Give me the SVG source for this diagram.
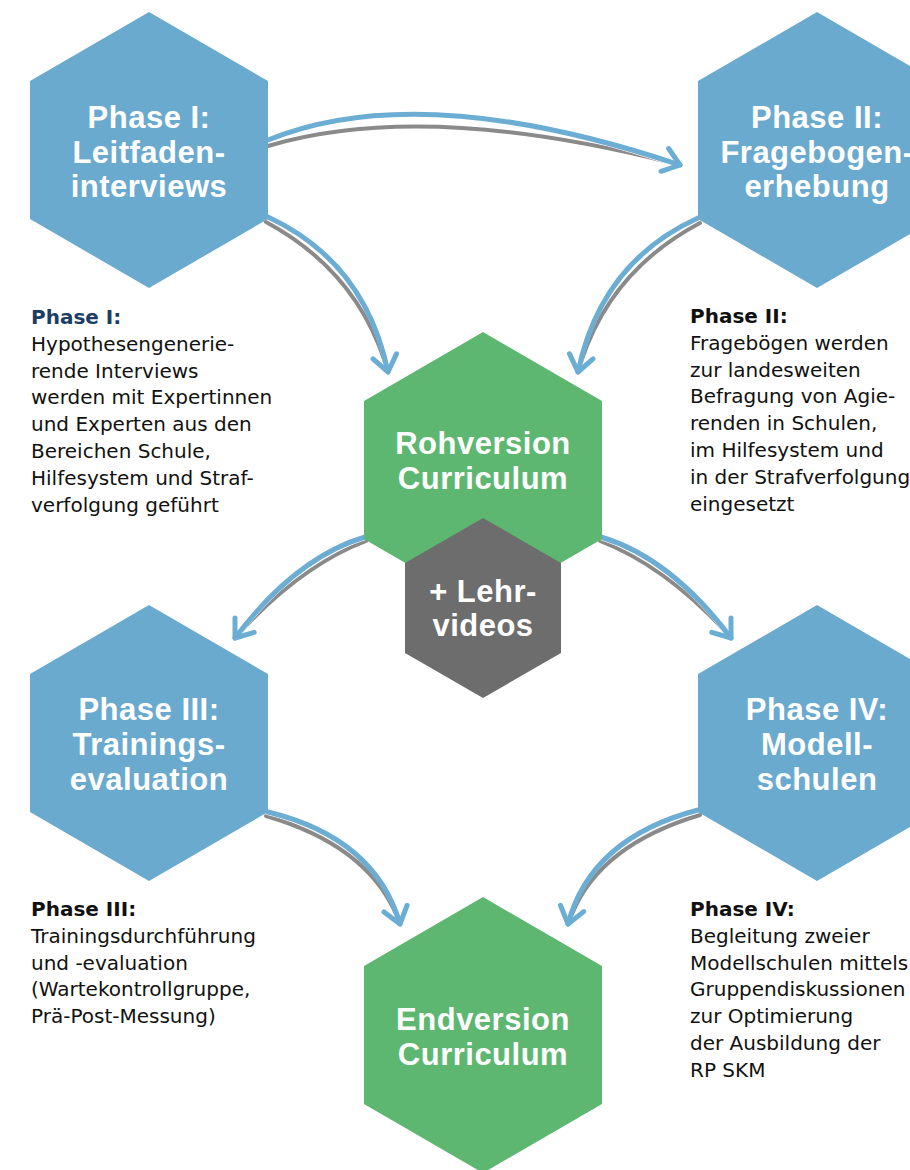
<svg xmlns="http://www.w3.org/2000/svg" width="910" height="1170" viewBox="0 0 910 1170">
<style>
.hb{fill:#6aaacf}
.hg{fill:#5eb771}
.hd{fill:#6d6d6d}
.t{font-family:"Liberation Sans",Arial,sans-serif;font-weight:bold;font-size:31px;letter-spacing:0.5px;fill:#ffffff;text-anchor:middle}
.b{font-family:"DejaVu Sans","Noto Sans",sans-serif;font-size:20px;fill:#111111}
.bh{font-weight:bold}
.sh{fill:none;stroke:#8a8a8a;stroke-width:4;stroke-linecap:round}
.hl{fill:none;stroke:#ffffff;stroke-width:6.2;stroke-linecap:round}
.ar{fill:none;stroke:#6badd3;stroke-width:5;stroke-linecap:round;marker-end:url(#chev)}
</style>
<defs>
<polygon id="hexL" points="0,-138 119,-69 119,69 0,138 -119,69 -119,-69"/>
<polygon id="hexS" points="0,-90 78,-45 78,45 0,90 -78,45 -78,-45"/>
<marker id="chev" markerUnits="userSpaceOnUse" orient="auto" markerWidth="40" markerHeight="40" refX="0" refY="0" viewBox="-25 -20 30 40" overflow="visible">
<path d="M-16,-12 L0,0 L-16,12" fill="none" stroke="#6badd3" stroke-width="5" stroke-linecap="round" stroke-linejoin="round"/>
</marker>
</defs>
<rect width="910" height="1170" fill="#ffffff"/>
<g id="connectors">
<path class="sh" d="M268,146 Q424,100 672,163"/>
<path class="hl" d="M268,140 Q420,78 676,164"/>
<path class="ar" d="M268,140 Q420,78 680,165"/>
<path class="sh" d="M266,222 Q355,270 385,362"/>
<path class="hl" d="M268,217 Q365,262 388,368"/>
<path class="ar" d="M268,217 Q365,262 388,372"/>
<path class="sh" d="M700,223 Q611,270 581,362"/>
<path class="hl" d="M698,218 Q601,262 578,368"/>
<path class="ar" d="M698,218 Q601,262 578,372"/>
<path class="sh" d="M366,541 Q303,565 242,630"/>
<path class="hl" d="M365,537 Q295,558 237,635"/>
<path class="ar" d="M365,537 Q295,558 235,638"/>
<path class="sh" d="M600,541 Q663,565 724,630"/>
<path class="hl" d="M601,537 Q671,558 729,635"/>
<path class="ar" d="M601,537 Q671,558 731,638"/>
<path class="sh" d="M266,816 Q366,845 396,914"/>
<path class="hl" d="M268,812 Q375,838 400,920"/>
<path class="ar" d="M268,812 Q375,838 400,924"/>
<path class="sh" d="M700,815 Q600,845 572,914"/>
<path class="hl" d="M698,810 Q591,838 568,920"/>
<path class="ar" d="M698,810 Q591,838 568,924"/>
</g>
<g id="phase1">
<use href="#hexL" class="hb" x="149" y="150"/>
<text class="t" x="149" y="128">Phase I:</text>
<text class="t" x="149" y="163">Leitfaden-</text>
<text class="t" x="149" y="197">interviews</text>
</g>
<g id="phase2">
<use href="#hexL" class="hb" x="817" y="150"/>
<text class="t" x="817" y="128">Phase II:</text>
<text class="t" x="817" y="163">Fragebogen-</text>
<text class="t" x="817" y="197">erhebung</text>
</g>
<g id="rohversion">
<use href="#hexL" class="hg" x="483" y="470"/>
<text class="t" x="483" y="454">Rohversion</text>
<text class="t" x="483" y="489">Curriculum</text>
</g>
<g id="lehrvideos">
<use href="#hexS" class="hd" x="483" y="608"/>
<text class="t" x="483" y="602">+ Lehr-</text>
<text class="t" x="483" y="636">videos</text>
</g>
<g id="phase3">
<use href="#hexL" class="hb" x="149" y="743"/>
<text class="t" x="149" y="720">Phase III:</text>
<text class="t" x="149" y="755">Trainings-</text>
<text class="t" x="149" y="790">evaluation</text>
</g>
<g id="phase4">
<use href="#hexL" class="hb" x="817" y="743"/>
<text class="t" x="817" y="720">Phase IV:</text>
<text class="t" x="817" y="755">Modell-</text>
<text class="t" x="817" y="790">schulen</text>
</g>
<g id="endversion">
<use href="#hexL" class="hg" x="483" y="1035"/>
<text class="t" x="483" y="1030">Endversion</text>
<text class="t" x="483" y="1065">Curriculum</text>
</g>
<g id="desc1">
<text class="b" x="31" y="324"><tspan class="bh" fill="#1c3d64">Phase I:</tspan><tspan x="31" dy="26.8">Hypothesengenerie-</tspan><tspan x="31" dy="26.8">rende Interviews</tspan><tspan x="31" dy="26.8">werden mit Expertinnen</tspan><tspan x="31" dy="26.8">und Experten aus den</tspan><tspan x="31" dy="26.8">Bereichen Schule,</tspan><tspan x="31" dy="26.8">Hilfesystem und Straf-</tspan><tspan x="31" dy="26.8">verfolgung geführt</tspan></text>
</g>
<g id="desc2">
<text class="b" x="690" y="323"><tspan class="bh">Phase II:</tspan><tspan x="690" dy="26.8">Fragebögen werden</tspan><tspan x="690" dy="26.8">zur landesweiten</tspan><tspan x="690" dy="26.8">Befragung von Agie-</tspan><tspan x="690" dy="26.8">renden in Schulen,</tspan><tspan x="690" dy="26.8">im Hilfesystem und</tspan><tspan x="690" dy="26.8">in der Strafverfolgung</tspan><tspan x="690" dy="26.8">eingesetzt</tspan></text>
</g>
<g id="desc3">
<text class="b" x="31" y="916"><tspan class="bh">Phase III:</tspan><tspan x="31" dy="26.8">Trainingsdurchführung</tspan><tspan x="31" dy="26.8">und -evaluation</tspan><tspan x="31" dy="26.8">(Wartekontrollgruppe,</tspan><tspan x="31" dy="26.8">Prä-Post-Messung)</tspan></text>
</g>
<g id="desc4">
<text class="b" x="690" y="916"><tspan class="bh">Phase IV:</tspan><tspan x="690" dy="26.8">Begleitung zweier</tspan><tspan x="690" dy="26.8">Modellschulen mittels</tspan><tspan x="690" dy="26.8">Gruppendiskussionen</tspan><tspan x="690" dy="26.8">zur Optimierung</tspan><tspan x="690" dy="26.8">der Ausbildung der</tspan><tspan x="690" dy="26.8">RP SKM</tspan></text>
</g>
</svg>
